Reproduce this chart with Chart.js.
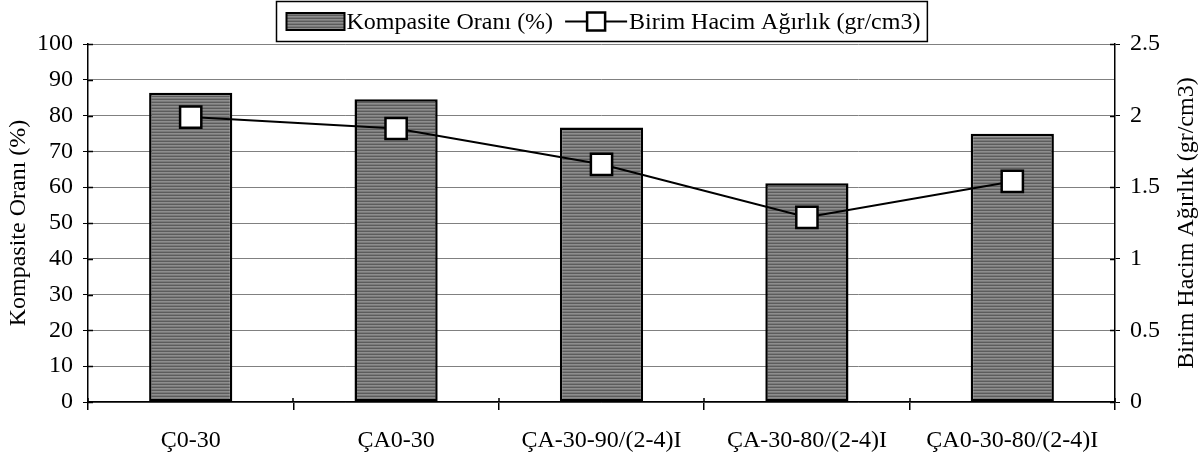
<!DOCTYPE html>
<html>
<head>
<meta charset="utf-8">
<script src="https://cdn.jsdelivr.net/npm/chart.js@4.4.1/dist/chart.umd.min.js"></script>
<style>
  html, body { margin: 0; padding: 0; background: #fff; }
  #wrap { width: 1203px; height: 456px; }
</style>
</head>
<body>
<div id="wrap"><canvas id="chart_main" width="1203" height="456"></canvas></div>
<script>
// -------------------- data
var categories = ['Ç0-30', 'ÇA0-30', 'ÇA-30-90/(2-4)I', 'ÇA-30-80/(2-4)I', 'ÇA0-30-80/(2-4)I'];
var kompasiteOrani = [86.4, 84.6, 76.7, 61.1, 74.9];
var birimHacimAgirlik = [1.99, 1.91, 1.66, 1.29, 1.54];
var leftTicks = { min: 0, max: 100, step: 10 };
var rightTicks = { min: 0, max: 2.5, step: 0.5 };
var barLabel = 'Kompasite Oranı (%)';
var lineLabel = 'Birim Hacim Ağırlık (gr/cm3)';

var FONT = '"Liberation Serif", "Times New Roman", serif';
var FSIZE = 24;

// striped grey fill like the excel bars
function stripePattern(){
	var c = document.createElement('canvas');
	c.width = 4; c.height = 3;
	var x = c.getContext('2d');
	x.fillStyle = '#8e8e8e'; x.fillRect(0, 0, 4, 3);
	x.fillStyle = '#5c5c5c'; x.fillRect(0, 0, 4, 1);
	x.fillStyle = '#7a7a7a'; x.fillRect(0, 2, 4, 1);
	return x.createPattern(c, 'repeat');
}
var ctx = document.getElementById('chart_main').getContext('2d');
var stripes = stripePattern();

// legend + axis titles drawn by hand (excel style)
var boxLegend = {
	id: 'boxLegend',
	afterDraw: function(chart){
		var c = chart.ctx, a = chart.chartArea;
		c.save();
		c.font = FSIZE + 'px ' + FONT;
		c.textBaseline = 'middle';

		// ticks crossing the axes
		c.strokeStyle = '#000'; c.lineWidth = 1.5;
		var sy = chart.scales.y, sy1 = chart.scales.y1, sx = chart.scales.x;
		c.beginPath();
		sy.ticks.forEach(function(t){ var p = Math.round(sy.getPixelForValue(t.value)) + 0.5; c.moveTo(a.left, p); c.lineTo(a.left + 5, p); });
		sy1.ticks.forEach(function(t){ var p = Math.round(sy1.getPixelForValue(t.value)) + 0.5; c.moveTo(a.right - 5, p); c.lineTo(a.right, p); });
		for (var i = 0; i <= categories.length; i++){
			var px = Math.round(a.left + (a.right - a.left) * i / categories.length);
			c.moveTo(px, a.bottom - 4); c.lineTo(px, a.bottom);
		}
		c.stroke();

		// axis titles, both read bottom to top
		c.fillStyle = '#000'; c.textAlign = 'center';
		var my = (a.top + a.bottom) / 2;
		c.save(); c.translate(19, my); c.rotate(-Math.PI / 2); c.fillText(barLabel, 0, 0); c.restore();
		c.save(); c.translate(1187, my); c.rotate(-Math.PI / 2); c.fillText(lineLabel, 0, 0); c.restore();
		c.textAlign = 'left';

		// legend box
		var w1 = c.measureText(barLabel).width;
		var w2 = c.measureText(lineLabel).width;
		var swW = 58, swH = 17, symW = 62, gap = 2, mid = 12, padL = 10, padR = 7;
		var total = padL + swW + gap + w1 + mid + symW + gap + w2 + padR;
		var cx = (a.left + a.right) / 2;
		var x0 = Math.round(cx - total / 2) + 0.5;
		var y0 = 1.5, h = 40, cy = y0 + h / 2;
		c.fillStyle = '#fff';
		c.fillRect(x0, y0, total, h);
		c.strokeStyle = '#000'; c.lineWidth = 1.5;
		c.strokeRect(x0, y0, total, h);
		var x = x0 + padL;
		c.fillStyle = stripes;
		c.fillRect(x, cy - swH / 2, swW, swH);
		c.lineWidth = 2;
		c.strokeRect(x, cy - swH / 2, swW, swH);
		x += swW + gap;
		c.fillStyle = '#000';
		c.fillText(barLabel, x, cy + 1);
		x += w1 + mid;
		c.beginPath(); c.moveTo(x, cy); c.lineTo(x + symW, cy);
		c.lineWidth = 2; c.stroke();
		c.fillStyle = '#fff';
		c.fillRect(x + symW / 2 - 9, cy - 9, 18, 18);
		c.lineWidth = 2.5;
		c.strokeRect(x + symW / 2 - 9, cy - 9, 18, 18);
		x += symW + gap;
		c.fillStyle = '#000';
		c.fillText(lineLabel, x, cy + 1);
		c.restore();
	}
};

var chart_main = new Chart(ctx, {
	type: 'bar',
	data: {
		labels: categories,
		datasets: [{
			type: 'line',
			label: lineLabel,
			data: birimHacimAgirlik,
			yAxisID: 'y1',
			borderColor: '#000',
			borderWidth: 2,
			pointStyle: 'rect',
			pointRadius: 15,
			pointHoverRadius: 15,
			pointBackgroundColor: '#fff',
			pointBorderColor: '#000',
			pointBorderWidth: 2.5,
			fill: false,
			order: 0
		}, {
			type: 'bar',
			label: barLabel,
			data: kompasiteOrani,
			yAxisID: 'y',
			backgroundColor: stripes,
			borderColor: '#000',
			borderWidth: 2.5,
			borderSkipped: false,
			barPercentage: 0.405,
			categoryPercentage: 1,
			order: 1
		}]
	},
	options: {
		responsive: false,
		animation: false,
		layout: { padding: { top: 44, left: 0, right: 0, bottom: 0 } },
		plugins: {
			legend: { display: false },
			tooltip: { enabled: false }
		},
		scales: {
			x: {
				offset: true,
				grid: { offset: true, drawOnChartArea: false, color: '#000', tickLength: 8, lineWidth: 1.5 },
				border: { color: '#000', width: 1.5 },
				ticks: { color: '#000', font: { family: FONT, size: FSIZE }, padding: 16, maxRotation: 0 },
				afterFit: function(s){ s.height = 54; }
			},
			y: {
				position: 'left',
				min: leftTicks.min, max: leftTicks.max,
				ticks: { stepSize: leftTicks.step, color: '#000', font: { family: FONT, size: FSIZE }, padding: 10 },
				grid: { color: '#808080', lineWidth: 1, tickColor: '#000', tickLength: 5 },
				border: { color: '#000', width: 1.5 },
				afterFit: function(s){ s.width = 88; }
			},
			y1: {
				position: 'right',
				min: rightTicks.min, max: rightTicks.max,
				ticks: { stepSize: rightTicks.step, color: '#000', font: { family: FONT, size: FSIZE }, padding: 10,
					callback: function(v){ return String(v); } },
				grid: { drawOnChartArea: false, tickColor: '#000', tickLength: 5 },
				border: { color: '#000', width: 1.5 },
				afterFit: function(s){ s.width = 88; }
			}
		}
	},
	plugins: [boxLegend]
});
</script>
</body>
</html>
